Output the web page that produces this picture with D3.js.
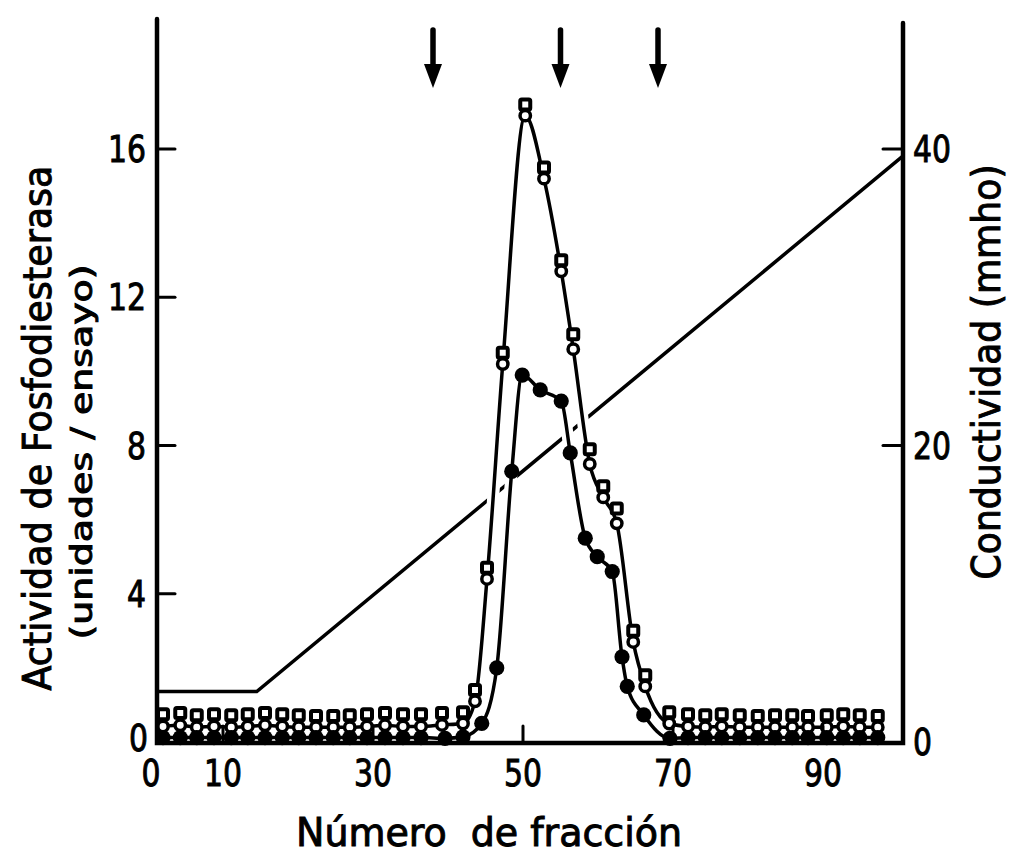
<!DOCTYPE html>
<html>
<head>
<meta charset="utf-8">
<script src="https://cdn.jsdelivr.net/npm/d3@7"></script>
<style>
  body { margin: 0; background: #fff; }
  svg { display: block; }
  text { font-family: 'DejaVu Sans Condensed', 'DejaVu Sans', sans-serif; fill: #000; stroke: #000; stroke-width: 0.9px; }
</style>
</head>
<body>
<svg width="1013" height="857"></svg>
<script>
// Fraction numbers of the open symbols (squares + open circles share them)
const fracOpen = [2, 4.3, 6.5, 8.8, 11.1, 13.3, 15.6, 17.9, 20.1, 22.4, 24.7, 26.9, 29.2, 31.6, 34, 36.4,
  39.2, 42, 43.6, 45.2, 47.3, 50.3, 52.8, 55.1, 56.7, 58.9, 60.7, 62.5, 64.7, 66.3, 69.5,
  72, 74.3, 76.5, 78.9, 81.3, 83.6, 85.9, 88, 90.5, 92.7, 94.9, 97.3];
const squareValues = [0.75, 0.78, 0.72, 0.75, 0.72, 0.75, 0.78, 0.75, 0.72, 0.7, 0.7, 0.72, 0.75, 0.78, 0.75, 0.75,
  0.78, 0.8, 1.4, 4.7, 10.5, 17.2, 15.5, 13.0, 11.0, 7.9, 6.9, 6.3, 3.0, 1.8, 0.8,
  0.75, 0.72, 0.75, 0.72, 0.7, 0.72, 0.72, 0.7, 0.72, 0.75, 0.72, 0.7];
const openCircleValues = [0.42, 0.45, 0.4, 0.42, 0.4, 0.42, 0.45, 0.42, 0.4, 0.4, 0.4, 0.4, 0.42, 0.45, 0.42, 0.42,
  0.46, 0.5, 1.1, 4.4, 10.2, 16.9, 15.2, 12.7, 10.6, 7.5, 6.6, 5.9, 2.7, 1.5, 0.5,
  0.42, 0.4, 0.42, 0.4, 0.4, 0.4, 0.4, 0.4, 0.4, 0.42, 0.4, 0.4];

// Filled circles
const fracFilled = [2, 4.3, 6.5, 8.8, 11.1, 13.3, 15.6, 17.9, 20.1, 22.4, 24.7, 26.9, 29.2, 31.6, 34, 36.4,
  39.6, 42, 44.5, 46.5, 48.5, 49.9, 52.3, 55.1, 56.3, 58.3, 59.9, 61.9, 63.2, 63.9, 66.1, 69.6,
  72, 74.3, 76.5, 78.9, 81.3, 83.6, 85.9, 88, 90.5, 92.7, 94.9, 97.3];
const filledValues = [0.12, 0.12, 0.12, 0.12, 0.12, 0.12, 0.12, 0.12, 0.12, 0.12, 0.12, 0.12, 0.12, 0.12, 0.12, 0.12,
  0.1, 0.14, 0.5, 2.0, 7.3, 9.9, 9.5, 9.2, 7.8, 5.5, 5.0, 4.6, 2.3, 1.5, 0.73, 0.1,
  0.12, 0.12, 0.12, 0.12, 0.12, 0.12, 0.12, 0.12, 0.12, 0.12, 0.12, 0.12];

// Conductivity gradient (mmho)
const condFractions = [1.2, 14.5, 100.6];
const condValues = [3.4, 3.4, 39.5];

// Arrows over the peaks
const arrowFractions = [38, 55, 68];

// Ticks
const xTicks = [0, 10, 30, 50, 70, 90];
const leftTicks = [0, 4, 8, 12, 16];
const rightTicks = [0, 20, 40];

class Chart {
  constructor () {
    this.svg = d3.select('svg');
    this.frame = {left: 157, right: 903, top: 19, bottom: 743};

    this.x = d3.scaleLinear().domain([0, 100]).range([148, 898]);
    this.y = d3.scaleLinear().domain([0, 16]).range([742, 149]);
    this.yR = d3.scaleLinear().domain([0, 40]).range([742, 149]);

    this.render();
  }

  render () {
    this._drawConductivity();
    this._drawCurves();
    this._drawPoints();
    this._drawAxes();
    this._drawArrows();
    this._drawLabels();
  }

  _drawConductivity () {
    const line = d3.line()
      .x(d => this.x(d[0]))
      .y(d => this.yR(d[1]));
    this.svg.append('path')
      .attr('d', line(d3.zip(condFractions, condValues)))
      .attr('fill', 'none')
      .attr('stroke', '#000')
      .attr('stroke-width', 3.5);
  }

  _drawCurves () {
    const line = d3.line()
      .x(d => this.x(d[0]))
      .y(d => this.y(d[1]))
      .curve(d3.curveMonotoneX);
    const curves = [d3.zip(fracOpen, openCircleValues), d3.zip(fracFilled, filledValues)];

    // White halo breaks the conductivity line where the curves cross it
    this.svg.append('g').selectAll('path')
      .data(curves).enter()
      .append('path')
      .attr('d', d => line(d))
      .attr('fill', 'none')
      .attr('stroke', '#fff')
      .attr('stroke-width', 12);

    this.svg.append('g').selectAll('path')
      .data(curves).enter()
      .append('path')
      .attr('d', d => line(d))
      .attr('fill', 'none')
      .attr('stroke', '#000')
      .attr('stroke-width', 3.5);
  }

  _drawPoints () {
    const g = this.svg.append('g');

    g.selectAll('.sq')
      .data(d3.zip(fracOpen, squareValues)).enter()
      .append('rect')
      .attr('class', 'sq')
      .attr('x', d => this.x(d[0]) - 5)
      .attr('y', d => this.y(d[1]) - 5)
      .attr('width', 10)
      .attr('height', 10)
      .attr('rx', 1.5)
      .attr('fill', '#fff')
      .attr('stroke', '#000')
      .attr('stroke-width', 4);

    g.selectAll('.oc')
      .data(d3.zip(fracOpen, openCircleValues)).enter()
      .append('circle')
      .attr('class', 'oc')
      .attr('cx', d => this.x(d[0]))
      .attr('cy', d => this.y(d[1]))
      .attr('r', 5.2)
      .attr('fill', '#fff')
      .attr('stroke', '#000')
      .attr('stroke-width', 3.5);

    g.selectAll('.fc')
      .data(d3.zip(fracFilled, filledValues)).enter()
      .append('circle')
      .attr('class', 'fc')
      .attr('cx', d => this.x(d[0]))
      .attr('cy', d => this.y(d[1]))
      .attr('r', 7.6)
      .attr('fill', '#000');
  }

  _drawAxes () {
    const f = this.frame;
    const g = this.svg.append('g')
      .attr('stroke', '#000')
      .attr('stroke-linecap', 'round');

    // Frame: left, bottom and right axis lines
    g.append('path')
      .attr('d', `M${f.left},${f.top}V${f.bottom}H${f.right}V23`)
      .attr('fill', 'none')
      .attr('stroke-width', 4.5)
      .attr('stroke-linejoin', 'miter');

    // Inner ticks
    g.selectAll('.lt')
      .data(leftTicks.filter(d => d > 0)).enter()
      .append('line')
      .attr('x1', f.left).attr('x2', f.left + 18)
      .attr('y1', d => this.y(d)).attr('y2', d => this.y(d))
      .attr('stroke-width', 3);

    g.selectAll('.rt')
      .data(rightTicks.filter(d => d > 0)).enter()
      .append('line')
      .attr('x1', f.right).attr('x2', f.right - 20)
      .attr('y1', d => this.yR(d)).attr('y2', d => this.yR(d))
      .attr('stroke-width', 3);

    g.selectAll('.xt')
      .data(xTicks.filter(d => d > 0)).enter()
      .append('line')
      .attr('x1', d => this.x(d)).attr('x2', d => this.x(d))
      .attr('y1', f.bottom).attr('y2', f.bottom - 17)
      .attr('stroke-width', 3);

    // Tick labels (condensed digits, ~19px each)
    const t = this.svg.append('g').attr('font-size', 37);
    const len = d => String(d).length * 19;
    t.selectAll('.xl')
      .data(xTicks).enter()
      .append('text')
      .attr('x', d => this.x(d) + (d === 0 ? 3 : 0))
      .attr('y', 786)
      .attr('text-anchor', 'middle')
      .attr('textLength', len)
      .attr('lengthAdjust', 'spacingAndGlyphs')
      .text(d => d);

    t.selectAll('.yl')
      .data(leftTicks).enter()
      .append('text')
      .attr('x', d => d === 0 ? 148 : 146)
      .attr('y', d => this.y(d) + (d === 0 ? 9 : 13))
      .attr('text-anchor', 'end')
      .attr('textLength', len)
      .attr('lengthAdjust', 'spacingAndGlyphs')
      .text(d => d);

    t.selectAll('.yrl')
      .data(rightTicks).enter()
      .append('text')
      .attr('x', 913)
      .attr('y', d => this.yR(d) + 13)
      .attr('textLength', len)
      .attr('lengthAdjust', 'spacingAndGlyphs')
      .text(d => d);
  }

  _drawArrows () {
    const g = this.svg.append('g');
    arrowFractions.forEach(fr => {
      const cx = this.x(fr);
      g.append('line')
        .attr('x1', cx).attr('x2', cx)
        .attr('y1', 30).attr('y2', 70)
        .attr('stroke', '#000')
        .attr('stroke-width', 5.5)
        .attr('stroke-linecap', 'round');
      g.append('path')
        .attr('d', `M${cx - 9},64L${cx + 9},64L${cx},88Z`)
        .attr('fill', '#000');
    });
  }

  _drawLabels () {
    this.svg.append('text')
      .attr('transform', 'translate(51,428) rotate(-90)')
      .attr('text-anchor', 'middle')
      .attr('font-size', 39)
      .attr('textLength', 525)
      .attr('lengthAdjust', 'spacingAndGlyphs')
      .text('Actividad de Fosfodiesterasa');

    this.svg.append('text')
      .attr('transform', 'translate(92,452) rotate(-90)')
      .attr('text-anchor', 'middle')
      .attr('font-size', 31)
      .attr('textLength', 375)
      .attr('lengthAdjust', 'spacingAndGlyphs')
      .text('(unidades / ensayo)');

    this.svg.append('text')
      .attr('transform', 'translate(1000,372) rotate(-90)')
      .attr('text-anchor', 'middle')
      .attr('font-size', 39)
      .attr('textLength', 415)
      .attr('lengthAdjust', 'spacingAndGlyphs')
      .text('Conductividad (mmho)');

    this.svg.append('text')
      .attr('x', 296)
      .attr('y', 846)
      .attr('font-size', 39)
      .attr('textLength', 386)
      .attr('lengthAdjust', 'spacingAndGlyphs')
      .style('white-space', 'pre')
      .text('Número  de fracción');
  }
}

window.chart = new Chart();
</script>
</body>
</html>
